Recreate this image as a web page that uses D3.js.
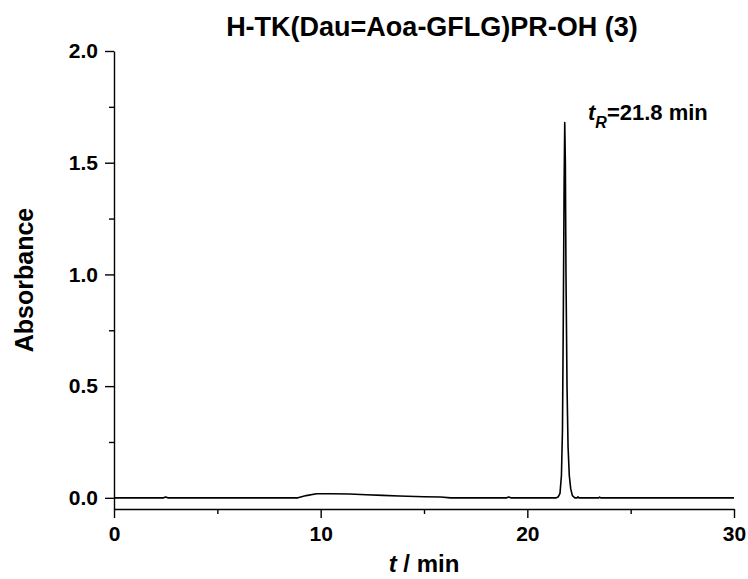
<!DOCTYPE html>
<html>
<head>
<meta charset="utf-8">
<script src="https://cdn.jsdelivr.net/npm/d3@7"></script>
<style>
  body { margin: 0; background: #fff; }
  svg { display: block; font-family: Arial, "Liberation Sans", sans-serif; }
</style>
</head>
<body>
<div id="chart"></div>
<script>
// HPLC trace
const timeMin = [0, 2.4, 2.5, 2.6, 2.7, 8.9, 9.3, 9.8, 10.5, 11.4, 12.2, 13.0, 13.8, 15.0, 15.8, 16.3,
  19.0, 19.1, 19.2, 21.4, 21.5, 21.58, 21.65, 21.7, 21.74, 21.78, 21.81, 21.84, 21.87, 21.92, 21.97,
  22.03, 22.1, 22.18, 22.3, 22.4, 22.45, 22.5, 23.45, 23.5, 23.55, 30];
const absorbance = [0, 0, 0.004, 0, 0, 0, 0.01, 0.018, 0.018, 0.017, 0.014, 0.011, 0.008, 0.005, 0.004, 0,
  0, 0.004, 0, 0, 0.005, 0.02, 0.1, 0.3, 0.8, 1.4, 1.68, 1.5, 1.0, 0.5, 0.23,
  0.1, 0.04, 0.01, 0, 0, 0.004, 0, 0, 0.003, 0, 0];

const xMajor = [0, 10, 20, 30];
const xMinor = [5, 15, 25];
const yMajor = [0, 0.5, 1.0, 1.5, 2.0];
const yMinor = [0.25, 0.75, 1.25, 1.75];

const titleText = "H-TK(Dau=Aoa-GFLG)PR-OH (3)";

const width = 748, height = 579;
const margin = {top: 51, right: 14, bottom: 70, left: 114};

const svg = d3.select('#chart')
  .append('svg')
  .attr('width', width)
  .attr('height', height);

const x = d3.scaleLinear()
  .domain([0, 30])
  .range([margin.left, width - margin.right]);

const y = d3.scaleLinear()
  .domain([-0.05, 2.0])
  .range([height - margin.bottom, margin.top]);

// axes
svg.append('g')
  .attr('transform', `translate(0,${y(-0.05)})`)
  .call(d3.axisBottom(x).tickValues(xMajor).tickSize(9).tickSizeOuter(0).tickPadding(8));
svg.append('g')
  .attr('transform', `translate(0,${y(-0.05)})`)
  .call(d3.axisBottom(x).tickValues(xMinor).tickSize(5).tickFormat(''))
  .select('.domain').remove();

svg.append('g')
  .attr('transform', `translate(${x(0)},0)`)
  .call(d3.axisLeft(y).tickValues(yMajor).tickSize(9).tickSizeOuter(0).tickPadding(7)
    .tickFormat(d3.format('.1f')));
svg.append('g')
  .attr('transform', `translate(${x(0)},0)`)
  .call(d3.axisLeft(y).tickValues(yMinor).tickSize(5).tickFormat(''))
  .select('.domain').remove();

svg.selectAll('.tick text')
  .style('font-size', '21px')
  .style('font-weight', 'bold')
  .style('font-family', 'Arial, "Liberation Sans", sans-serif')
  .attr('fill', '#000');
svg.selectAll('.domain, .tick line')
  .attr('stroke', '#000')
  .attr('stroke-width', 1.4);

// trace
const line = d3.line()
  .x((d, i) => x(timeMin[i]))
  .y(d => y(d));

svg.append('path')
  .datum(absorbance)
  .attr('d', line)
  .attr('fill', 'none')
  .attr('stroke', '#000')
  .attr('stroke-width', 1.6)
  .attr('stroke-linejoin', 'round');

// title
svg.append('text')
  .attr('x', 432)
  .attr('y', 36)
  .attr('text-anchor', 'middle')
  .style('font-size', '27px')
  .style('font-weight', 'bold')
  .text(titleText);

// axis titles
const xt = svg.append('text')
  .attr('x', (x(0) + x(30)) / 2)
  .attr('y', 572)
  .attr('text-anchor', 'middle')
  .style('font-size', '24px')
  .style('font-weight', 'bold');
xt.append('tspan').style('font-style', 'italic').text('t');
xt.append('tspan').text(' / min');

svg.append('text')
  .attr('transform', `translate(33,${(y(-0.05) + y(2.0)) / 2}) rotate(-90)`)
  .attr('text-anchor', 'middle')
  .style('font-size', '25px')
  .style('font-weight', 'bold')
  .text('Absorbance');

// retention time label
const ann = svg.append('text')
  .attr('x', 588)
  .attr('y', 120)
  .style('font-size', '22px')
  .style('font-weight', 'bold');
ann.append('tspan').style('font-style', 'italic').text('t');
ann.append('tspan').style('font-style', 'italic').style('font-size', '16px')
  .attr('dy', 8).text('R');
ann.append('tspan').attr('dy', -8).text('=21.8 min');
</script>
</body>
</html>
